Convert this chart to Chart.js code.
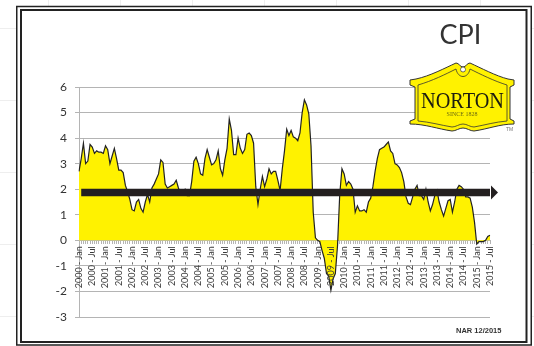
<!DOCTYPE html>
<html>
<head>
<meta charset="utf-8">
<title>CPI</title>
<script src="https://cdn.jsdelivr.net/npm/chart.js@4"></script>
<style>
  html, body { margin: 0; padding: 0; }
  body {
    width: 534px; height: 346px; overflow: hidden;
    background-color: #fff;
    background-image:
      linear-gradient(to right, #eeeeee 1px, transparent 1px),
      linear-gradient(to bottom, #eeeeee 1px, transparent 1px);
    background-size: 72px 72px;
    background-position: 48px 28px;
  }
  #cpiChart { display: block; }
</style>
</head>
<body>
<canvas id="cpiChart" width="534" height="346"></canvas>
<script>
const tickLabels = [
  "2000 - Jan", "2000 - Jul", "2001 - Jan", "2001 - Jul", "2002 - Jan", "2002 - Jul",
  "2003 - Jan", "2003 - Jul", "2004 - Jan", "2004 - Jul", "2005 - Jan", "2005 - Jul",
  "2006 - Jan", "2006 - Jul", "2007 - Jan", "2007 - Jul", "2008 - Jan", "2008 - Jul",
  "2009 - Jan", "2009 - Jul", "2010 - Jan", "2010 - Jul", "2011 - Jan", "2011 - Jul",
  "2012 - Jan", "2012 - Jul", "2013 - Jan", "2013 - Jul", "2014 - Jan", "2014 - Jul",
  "2015 - Jan", "2015 - Jul"
];

// monthly readings, Jan 2000 onward
const cpiValues = [
  2.7, 3.2, 3.8, 3.0, 3.1, 3.75, 3.65, 3.4, 3.5, 3.45, 3.45, 3.4,
  3.7, 3.55, 3.0, 3.3, 3.6, 3.2, 2.75, 2.75, 2.65, 2.15, 1.9, 1.6,
  1.2, 1.15, 1.5, 1.6, 1.25, 1.1, 1.5, 1.8, 1.5, 2.05, 2.2, 2.4,
  2.6, 3.15, 3.05, 2.2, 2.05, 2.1, 2.15, 2.2, 2.35, 2.05, 1.8, 1.9,
  2.0, 1.75, 1.75, 2.3, 3.1, 3.25, 3.0, 2.6, 2.55, 3.2, 3.55, 3.25,
  2.95, 3.0, 3.15, 3.5, 2.8, 2.55, 3.15, 3.6, 4.75, 4.3, 3.35, 3.35,
  4.0, 3.6, 3.4, 3.55, 4.15, 4.2, 4.1, 3.8, 2.1, 1.4, 2.0, 2.5,
  2.1, 2.4, 2.8, 2.6, 2.7, 2.7, 2.35, 1.95, 2.8, 3.5, 4.35, 4.1,
  4.3, 4.05, 4.0, 3.9, 4.2, 5.0, 5.5, 5.3, 4.95, 3.7, 1.1, 0.1,
  0.0, -0.05, -0.4, -0.7, -1.3, -1.4, -1.95, -1.5, -1.3, -0.2, 1.8, 2.8,
  2.6, 2.15, 2.3, 2.2, 2.0, 1.1, 1.35, 1.15, 1.15, 1.2, 1.1, 1.5,
  1.65, 2.1, 2.7, 3.2, 3.55, 3.6, 3.65, 3.75, 3.85, 3.5, 3.4, 3.0,
  2.95, 2.85, 2.65, 2.3, 1.7, 1.45, 1.4, 1.7, 2.0, 2.15, 1.75, 1.75,
  1.6, 2.0, 1.5, 1.15, 1.4, 1.75, 1.95, 1.5, 1.2, 0.95, 1.25, 1.55,
  1.6, 1.1, 1.5, 2.0, 2.15, 2.1, 2.0, 1.7, 1.7, 1.65, 1.3, 0.7,
  -0.15, -0.05, -0.05, -0.05, 0.0, 0.15, 0.2
];

const arrowLevel = 1.87;
const yMin = -3;
const yMax = 6;

const categories = cpiValues.map((v, i) => (i % 6 === 0 ? tickLabels[i / 6] : ""));
const arrowValues = cpiValues.map((v, i) => (i === 0 ? null : arrowLevel));

const ink = "#222222";
const gridGray = "#b4b4b4";

// double rule around the whole sheet, white inside
const framePlugin = {
  id: "frame",
  beforeDraw(chart) {
    const ctx = chart.ctx;
    ctx.save();
    ctx.fillStyle = "#fff";
    ctx.fillRect(16, 6, 516, 340);
    ctx.strokeStyle = "#222";
    ctx.lineWidth = 1.5;
    ctx.strokeRect(16.75, 6.5, 514.5, 338.5);
    ctx.lineWidth = 2;
    ctx.strokeRect(21, 10, 505.5, 332);
    ctx.restore();
  },
};

function drawLogo(ctx) {
  ctx.save();
  ctx.beginPath();
  ctx.moveTo(410, 80);
  ctx.lineTo(416, 79);
  ctx.bezierCurveTo(430, 76, 445, 68, 456, 63);
  ctx.bezierCurveTo(459, 63, 460, 67, 463, 67);
  ctx.bezierCurveTo(466, 67, 467, 63, 470, 63);
  ctx.bezierCurveTo(481, 68, 496, 76, 508, 79);
  ctx.lineTo(514, 80);
  ctx.lineTo(514, 85);
  ctx.lineTo(510, 87);
  ctx.lineTo(510, 119);
  ctx.lineTo(514, 121);
  ctx.lineTo(514, 124);
  ctx.bezierCurveTo(500, 124, 488, 129, 474, 131);
  ctx.bezierCurveTo(470, 131, 467, 128, 463, 128);
  ctx.bezierCurveTo(459, 128, 456, 131, 452, 131);
  ctx.bezierCurveTo(438, 129, 425, 124, 410, 124);
  ctx.lineTo(410, 121);
  ctx.lineTo(415, 119);
  ctx.lineTo(415, 87);
  ctx.lineTo(410, 85);
  ctx.closePath();
  ctx.fillStyle = "#fff200";
  ctx.fill();
  ctx.strokeStyle = "#333";
  ctx.lineWidth = 1;
  ctx.stroke();

  // inner panel
  ctx.beginPath();
  ctx.moveTo(418, 85);
  ctx.bezierCurveTo(432, 81, 446, 74, 456, 69);
  ctx.bezierCurveTo(458, 79, 468, 79, 470, 69);
  ctx.bezierCurveTo(480, 74, 494, 81, 507, 85);
  ctx.lineTo(507, 121);
  ctx.bezierCurveTo(495, 122, 485, 125, 474, 127);
  ctx.bezierCurveTo(470, 127, 467, 124, 463, 124);
  ctx.bezierCurveTo(459, 124, 456, 127, 452, 127);
  ctx.bezierCurveTo(440, 125, 430, 122, 418, 121);
  ctx.closePath();
  ctx.lineWidth = 0.8;
  ctx.stroke();

  // notch eyelet
  ctx.beginPath();
  ctx.arc(463, 69.5, 2.5, 0, Math.PI * 2);
  ctx.fillStyle = "#fff";
  ctx.fill();
  ctx.lineWidth = 0.7;
  ctx.stroke();

  ctx.textAlign = "center";
  ctx.textBaseline = "alphabetic";
  ctx.fillStyle = "#1d1d10";
  ctx.font = "24px 'Liberation Serif'";
  ctx.fillText("NORTON", 462.5, 108, 83);
  ctx.fillStyle = "#6b6a10";
  ctx.font = "6px 'Liberation Serif'";
  ctx.fillText("SINCE 1828", 462, 116, 31);
  ctx.fillStyle = "#777";
  ctx.font = "5px 'Liberation Sans'";
  ctx.fillText("TM", 509.5, 131);
  ctx.restore();
}

// arrowhead, title, logo and the date note go over the plot
const annotationPlugin = {
  id: "annotations",
  afterDraw(chart) {
    const ctx = chart.ctx;
    const xEnd = chart.scales.x.getPixelForValue(cpiValues.length - 1);
    const yArrow = chart.scales.y.getPixelForValue(arrowLevel);
    ctx.save();
    ctx.fillStyle = "#231f20";
    ctx.beginPath();
    ctx.moveTo(xEnd + 1, yArrow - 7);
    ctx.lineTo(xEnd + 8, yArrow);
    ctx.lineTo(xEnd + 1, yArrow + 7);
    ctx.closePath();
    ctx.fill();

    ctx.fillStyle = "#333";
    ctx.font = "27px Lato";
    ctx.textAlign = "left";
    ctx.textBaseline = "alphabetic";
    ctx.fillText("CPI", 439.5, 44);

    ctx.font = "bold 7.5px 'Liberation Sans'";
    ctx.fillText("NAR 12/2015", 456, 333);
    ctx.restore();

    drawLogo(ctx);
  },
};

new Chart(document.getElementById("cpiChart").getContext("2d"), {
  type: "line",
  data: {
    labels: categories,
    datasets: [
      {
        data: arrowValues,
        borderColor: "#231f20",
        borderWidth: 7.5,
        pointRadius: 0,
        fill: false,
        order: 1,
        clip: false,
      },
      {
        data: cpiValues,
        borderColor: ink,
        borderWidth: 1.2,
        backgroundColor: "#fff200",
        pointRadius: 0,
        tension: 0,
        fill: "origin",
        order: 2,
      },
    ],
  },
  options: {
    responsive: false,
    animation: false,
    layout: { padding: { top: 87, right: 44, bottom: 29, left: 0 } },
    plugins: {
      legend: { display: false },
      tooltip: { enabled: false },
    },
    scales: {
      x: {
        position: { y: 0 },
        grid: { drawOnChartArea: false, color: gridGray, tickLength: 3 },
        border: { color: gridGray },
        ticks: {
          autoSkip: false,
          minRotation: 90,
          maxRotation: 90,
          padding: 3,
          z: 1,
          color: "#3a3a3a",
          font: { family: "Lato", size: 9 },
        },
      },
      y: {
        min: yMin,
        max: yMax,
        afterFit: (scale) => { scale.width = 79; },
        grid: { color: gridGray, tickLength: 4 },
        border: { color: gridGray },
        ticks: {
          stepSize: 1,
          padding: 8,
          color: "#333",
          font: { family: "Lato", size: 12 },
        },
      },
    },
  },
  plugins: [framePlugin, annotationPlugin],
});
</script>
</body>
</html>
